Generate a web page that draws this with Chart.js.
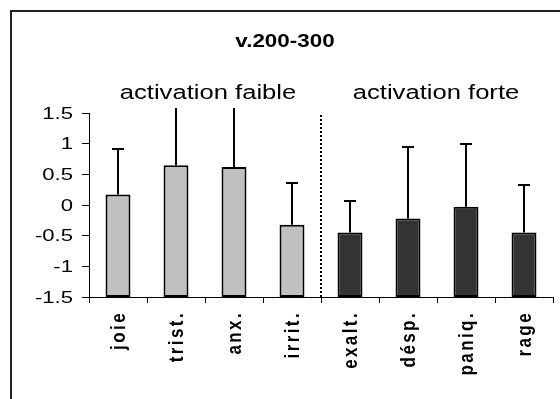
<!DOCTYPE html>
<html>
<head>
<meta charset="utf-8">
<script src="https://cdn.jsdelivr.net/npm/chart.js@4/dist/chart.umd.min.js"></script>
<style>
  html, body { margin: 0; padding: 0; background: #fff; overflow: hidden; }
  canvas { display: block; }
</style>
</head>
<body>
<canvas id="chart" width="560" height="399"></canvas>
<script>
// data
const categories = ['joie', 'trist.', 'anx.', 'irrit.', 'exalt.', 'désp.', 'paniq.', 'rage'];
const means = [0.17, 0.65, 0.62, -0.32, -0.45, -0.22, -0.03, -0.45];
const errors = [0.74, 1.2, 1.2, 0.68, 0.52, 1.16, 1.03, 0.77];
const groups = ['activation faible', 'activation forte'];
const groupSize = [4, 4];
const yTicks = [-1.5, -1, -0.5, 0, 0.5, 1, 1.5];
const chartTitle = 'v.200-300';

const AXIS_MIN = -1.5;
const lightFill = '#c0c0c0';
const darkFill = '#333333';
const FONT = '"Liberation Sans", Arial, sans-serif';

// bars sit on the bottom of the axis, like the Excel original
const barData = means.map(v => [AXIS_MIN, v]);
const barColors = categories.map((c, i) => i < groupSize[0] ? lightFill : darkFill);

// the original picture is stretched sideways, so text gets a horizontal scale
function wideText(ctx, text, x, y, sx) {
  ctx.save();
  ctx.translate(x, y);
  ctx.scale(sx, 1);
  ctx.fillText(text, 0, 0);
  ctx.restore();
}

const decorPlugin = {
  id: 'decor',
  beforeDraw(chart) {
    const { ctx, width, height } = chart;
    // outer frame, cut by the picture on the right and bottom
    ctx.save();
    ctx.strokeStyle = '#222';
    ctx.lineWidth = 2;
    ctx.beginPath();
    ctx.moveTo(11, height + 2);
    ctx.lineTo(11, 11);
    ctx.lineTo(width + 2, 11);
    ctx.stroke();
    ctx.restore();
  },
  afterDatasetsDraw(chart) {
    const { ctx, chartArea } = chart;
    const x = chart.scales.x;
    const y = chart.scales.y;

    // upper error bars, clipped just above the plot
    ctx.save();
    ctx.beginPath();
    ctx.rect(chartArea.left, chartArea.top - 5, chartArea.right - chartArea.left, chartArea.bottom - chartArea.top + 5);
    ctx.clip();
    ctx.strokeStyle = '#000';
    ctx.lineWidth = 2;
    means.forEach((m, i) => {
      const cx = Math.round(x.getPixelForValue(i));
      const y0 = y.getPixelForValue(m);
      const y1 = Math.round(y.getPixelForValue(m + errors[i]));
      ctx.beginPath();
      ctx.moveTo(cx, y0);
      ctx.lineTo(cx, y1);
      ctx.moveTo(cx - 6, y1);
      ctx.lineTo(cx + 6, y1);
      ctx.stroke();
    });
    ctx.restore();

    // dotted separator between the two groups
    const sep = Math.round((x.getPixelForValue(groupSize[0] - 1) + x.getPixelForValue(groupSize[0])) / 2);
    ctx.save();
    ctx.strokeStyle = '#000';
    ctx.lineWidth = 2;
    ctx.setLineDash([2, 2]);
    ctx.beginPath();
    ctx.moveTo(sep, chartArea.top + 2);
    ctx.lineTo(sep, chartArea.bottom);
    ctx.stroke();
    ctx.restore();
  },
  afterDraw(chart) {
    const { ctx, chartArea } = chart;
    const x = chart.scales.x;
    const y = chart.scales.y;
    ctx.save();
    ctx.fillStyle = '#000';

    // title
    ctx.font = `bold 19px ${FONT}`;
    ctx.textAlign = 'center';
    ctx.textBaseline = 'alphabetic';
    wideText(ctx, chartTitle, 285, 47, 1.18);

    // group captions
    ctx.font = `20px ${FONT}`;
    let start = 0;
    groups.forEach((g, gi) => {
      const a = x.getPixelForValue(start);
      const b = x.getPixelForValue(start + groupSize[gi] - 1);
      wideText(ctx, g, (a + b) / 2 + (gi === 0 ? 3 : -1), 99, 1.28);
      start += groupSize[gi];
    });

    // y tick labels
    ctx.font = `17px ${FONT}`;
    ctx.textAlign = 'right';
    ctx.textBaseline = 'middle';
    yTicks.forEach(v => {
      wideText(ctx, String(v), chartArea.left - 16, y.getPixelForValue(v) + 1, 1.3);
    });

    // rotated category labels (glyph height stretched like the rest)
    ctx.font = `bold 17px ${FONT}`;
    ctx.letterSpacing = '2.4px';
    ctx.textAlign = 'right';
    ctx.textBaseline = 'middle';
    categories.forEach((c, i) => {
      ctx.save();
      ctx.translate(x.getPixelForValue(i) + 1, chartArea.bottom + 14);
      ctx.rotate(-Math.PI / 2);
      ctx.scale(1, 1.18);
      ctx.fillText(c, 0, 0);
      ctx.restore();
    });
    ctx.restore();
  }
};

new Chart(document.getElementById('chart'), {
  type: 'bar',
  data: {
    labels: categories,
    datasets: [{
      data: barData,
      backgroundColor: barColors,
      borderColor: '#000',
      borderWidth: 2,
      borderSkipped: false,
      barPercentage: 0.43,
      categoryPercentage: 1
    }]
  },
  options: {
    responsive: false,
    animation: false,
    layout: { padding: { left: 10, right: 7, top: 113, bottom: 0 } },
    plugins: {
      legend: { display: false },
      tooltip: { enabled: false }
    },
    scales: {
      x: {
        grid: { display: true, drawOnChartArea: false, drawTicks: true, tickLength: 6, color: '#000', lineWidth: 1 },
        border: { display: true, color: '#000', width: 1 },
        ticks: { display: false },
        afterFit(scale) { scale.height = 102; }
      },
      y: {
        min: AXIS_MIN,
        max: 1.5,
        afterBuildTicks(scale) { scale.ticks = yTicks.map(v => ({ value: v })); },
        grid: { display: true, drawOnChartArea: false, drawTicks: true, tickLength: 7, color: '#000', lineWidth: 1 },
        border: { display: true, color: '#000', width: 1 },
        ticks: { display: false },
        afterFit(scale) { scale.width = 79; }
      }
    }
  },
  plugins: [decorPlugin]
});
</script>
</body>
</html>
